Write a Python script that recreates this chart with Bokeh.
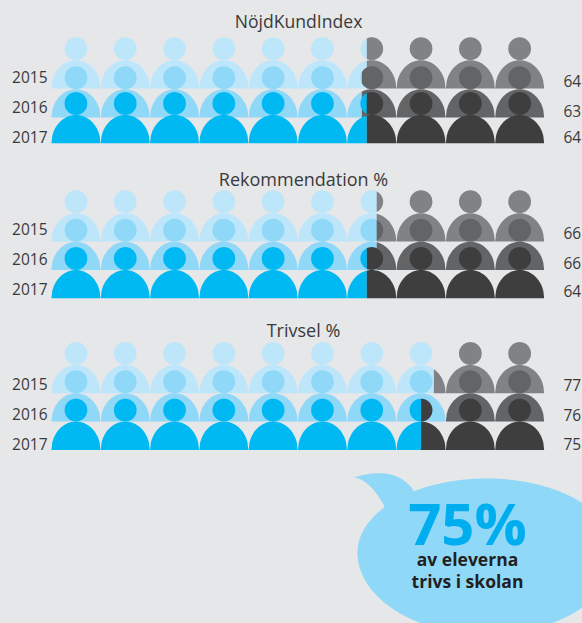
import numpy as np
from bokeh.core.properties import value
from bokeh.embed import file_html
from bokeh.models import ColumnDataSource, GlobalInlineStyleSheet, Range1d
from bokeh.plotting import figure
from bokeh.resources import INLINE

# --- data ---
years = ["2015", "2016", "2017"]
titles = ["NöjdKundIndex", "Rekommendation %", "Trivsel %"]
nki_values = [64, 63, 64]
rek_values = [66, 66, 64]
tri_values = [77, 76, 75]
# the share that is actually painted blue (Trivsel 2016 is drawn up to a whole icon)
nki_painted = [64, 63, 64]
rek_painted = [66, 66, 64]
tri_painted = [77.6, 80, 75]
callout_big = "75%"
callout_lines = ["av eleverna", "trivs i skolan"]

# --- layout and style ---
W, H = 582, 623
X0, X100 = 50.8, 543.8
PX = (X100 - X0) / 100.0
BG = "#e6e7e8"
BLUES = ["#bee6fb", "#8fd8f8", "#00b9f2"]
GREYS = ["#808285", "#636466", "#3e3e3e"]
TEXT = "#3a3a3c"
FONT = value("Open Sans")
ICONS = 10
BASE_SHIFT = 0.40   # the svg text sits this many em below the requested baseline
panels = [
    dict(title=titles[0], vals=nki_values, fill=nki_painted, bottoms=[88.0, 117.0, 142.8],
         left=[83, 113, 143], right=[87, 117, 143], tx=298, ty=28, ts=17.6),
    dict(title=titles[1], vals=rek_values, fill=rek_painted, bottoms=[241.0, 269.5, 297.8],
         left=[235, 265, 295], right=[239, 269, 297], tx=303, ty=186, ts=18),
    dict(title=titles[2], vals=tri_values, fill=tri_painted, bottoms=[392.8, 421.0, 449.4],
         left=[390, 420, 450], right=[391, 421, 450], tx=303, ty=337, ts=18),
]

p = figure(width=W, height=H, output_backend="svg", toolbar_location=None,
           x_range=Range1d(-X0 / PX, (W - X0) / PX), y_range=Range1d(H, 0),
           x_axis_type=None, y_axis_type=None, min_border=0,
           background_fill_color=BG, border_fill_color=BG, outline_line_color=None)
p.xgrid.visible = False
p.ygrid.visible = False
p.stylesheets = [GlobalInlineStyleSheet(css=f"html,body{{margin:0;padding:0;background:{BG};overflow:hidden}}")]


def clipped(top, bottom, x0, x1):
    xs = np.linspace(x0, x1, 60)
    return list(xs) + list(xs[::-1]), list(top(xs)) + list(bottom(xs[::-1]))


HEAD_R = 11.4
BODY_A = 4.97   # half width in percent units
BODY_H = 28.3

xs_all, ys_all, col_all = [], [], []


def add_shape(top, bottom, lo, hi, split, blue, grey):
    if split > lo:
        a, b = clipped(top, bottom, lo, min(split, hi))
        xs_all.append(a); ys_all.append(b); col_all.append(blue)
    if split < hi:
        a, b = clipped(top, bottom, max(split, lo), hi)
        xs_all.append(a); ys_all.append(b); col_all.append(grey)


for panel in panels:
    for r, (bot, share) in enumerate(zip(panel["bottoms"], panel["fill"])):
        for i in range(ICONS):
            cx = (100.0 / ICONS) * (i + 0.5)
            # head
            cy = bot - 39.8
            rx = HEAD_R / PX
            ht = lambda x, cx=cx, cy=cy: cy - np.sqrt(np.clip(HEAD_R**2 - ((x - cx) * PX) ** 2, 0, None))
            hb = lambda x, cx=cx, cy=cy: cy + np.sqrt(np.clip(HEAD_R**2 - ((x - cx) * PX) ** 2, 0, None))
            add_shape(ht, hb, cx - rx, cx + rx, share, BLUES[r], GREYS[r])
            # body
            bt = lambda x, cx=cx, bot=bot: bot - BODY_H * np.sqrt(np.clip(1 - ((x - cx) / BODY_A) ** 2, 0, None))
            bb = lambda x, bot=bot: np.full_like(x, bot)
            add_shape(bt, bb, cx - BODY_A, cx + BODY_A, share, BLUES[r], GREYS[r])

p.patches("xs", "ys", source=ColumnDataSource(dict(xs=xs_all, ys=ys_all, color=col_all)),
          fill_color="color", line_color=None)

to_x = lambda px: (px - X0) / PX
up = lambda ys, size: [y - BASE_SHIFT * size for y in ys]

for panel in panels:
    p.text([to_x(panel["tx"])], up([panel["ty"]], panel["ts"]), text=[panel["title"]], text_font=FONT,
           text_font_size=f"{panel['ts']}px", text_color=TEXT, text_align="center", text_baseline="alphabetic")
    p.text([to_x(47)] * 3, up(panel["left"], 15.5), text=years, text_font=FONT, text_font_size="15.5px",
           text_color=TEXT, text_align="right", text_baseline="alphabetic")
    p.text([to_x(563)] * 3, up(panel["right"], 15.5), text=[str(v) for v in panel["vals"]], text_font=FONT,
           text_font_size="15.5px", text_color=TEXT, text_align="left", text_baseline="alphabetic")

# callout bubble: the lower half is a little deeper than the upper one
t = np.linspace(0, 2 * np.pi, 240)
BX, BY, BA, B_UP, B_DOWN = 486.0, 552.0, 129.0, 74.0, 82.0
ey = np.sin(t)
p.patch(to_x(BX + BA * np.cos(t)), BY + np.where(ey < 0, B_UP, B_DOWN) * ey,
        fill_color=BLUES[1], line_color=None)


def bez(a, c, b):
    u = np.linspace(0, 1, 30)[:, None]
    return (1 - u) ** 2 * np.array(a) + 2 * u * (1 - u) * np.array(c) + u ** 2 * np.array(b)


tail = np.vstack([bez((353, 477), (395, 464), (413, 490)), [(420, 520), (390, 520)],
                  bez((383, 504), (368, 478), (353, 477))])
p.patch(to_x(tail[:, 0]), tail[:, 1], fill_color=BLUES[1], line_color=None)

p.text([to_x(467)], up([545], 58), text=[callout_big], text_font=FONT, text_font_style="bold",
       text_font_size="58px", text_color="#00aeef", text_align="center", text_baseline="alphabetic")
p.text([to_x(467), to_x(467)], up([565, 587], 17.5), text=callout_lines, text_font=FONT, text_font_style="bold",
       text_font_size="17.5px", text_color="#231f20", text_align="center", text_baseline="alphabetic")

open("out.html", "w").write(file_html(p, INLINE))
